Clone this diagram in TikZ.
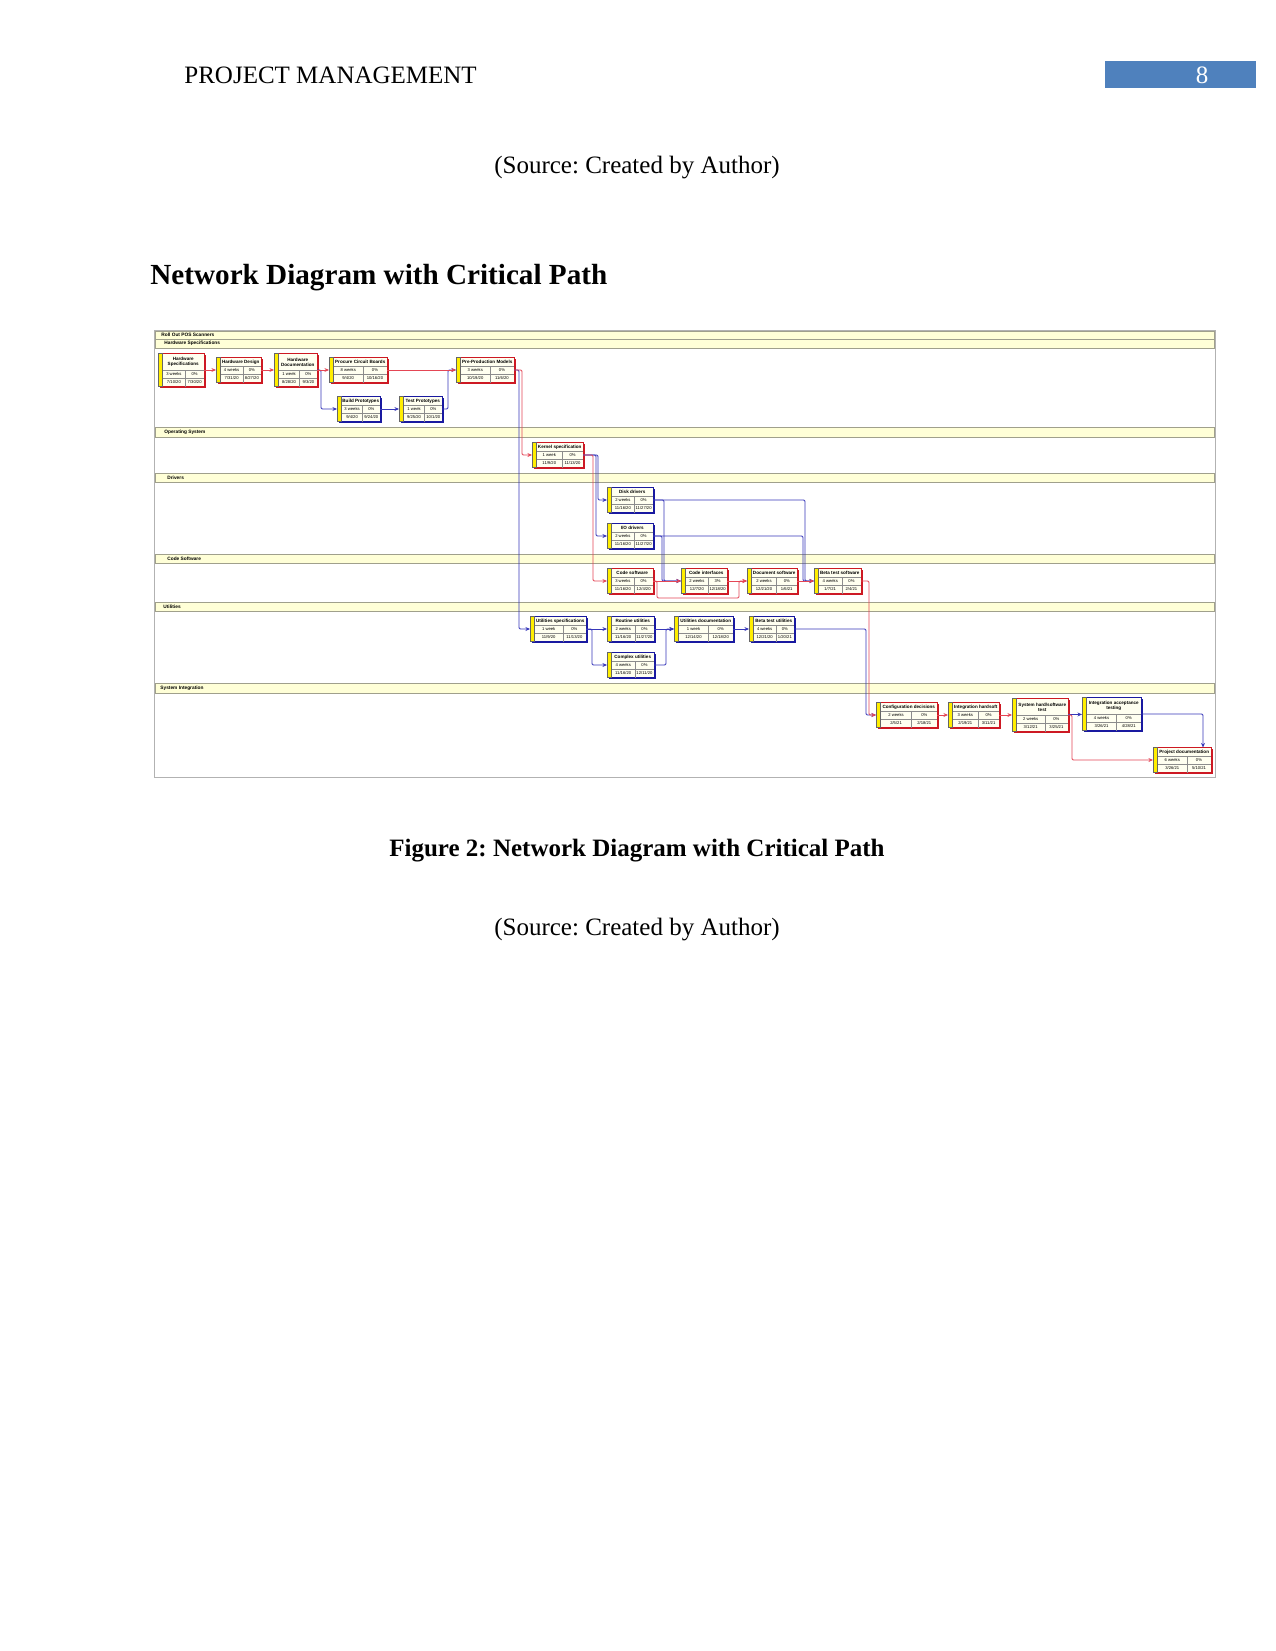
\documentclass[tikz,border=0pt]{standalone}
\usepackage{fontspec}
\setmainfont{Liberation Serif}
\newfontfamily\msfont{Liberation Sans}
\usetikzlibrary{arrows.meta,calc,shadows}
\frenchspacing

\definecolor{hdrblue}{RGB}{79,129,189}
\definecolor{bandfill}{RGB}{255,255,215}
\definecolor{bandline}{RGB}{160,160,140}
\definecolor{critred}{RGB}{205,25,35}
\definecolor{normblue}{RGB}{25,25,160}
\definecolor{linkred}{RGB}{228,70,85}
\definecolor{linkblue}{RGB}{55,55,185}
\definecolor{boxfill}{RGB}{255,255,240}
\definecolor{stripyellow}{RGB}{255,238,0}

% fill one task box: node, title, duration, percent, start, finish
\newcommand{\cells}[6]{%
  \coordinate (#1-t) at ($(#1.south west)+(4.5,0)$);
  \coordinate (#1-d) at ($(#1-t)!0.55!(#1.south east)$);
  \coordinate (#1-l) at ($(#1-t)+(0,-16)$);
  \coordinate (#1-r) at ($(#1.south east)+(0,-16)$);
  \filldraw[fill=stripyellow,draw=black!60,line width=0.2pt] (#1.north west) rectangle (#1-t);
  \draw[cellline] (#1-l) -- (#1-r) ($(#1-t)+(0,-8)$) -- ($(#1.south east)+(0,-8)$) (#1-d |- #1-l) -- (#1-d);
  \node[ttl] (#1-name) at ($(#1-l)!0.5!(#1.north east)$) {#2};
  \node[cel] (#1-dur) at ($(#1-t)!0.5!(#1-d)+(0,-12)$) {#3};
  \node[cel] (#1-pct) at ($(#1-d)!0.5!(#1.south east)+(0,-12)$) {#4};
  \node[cel] (#1-start) at ($(#1-t)!0.5!(#1-d)+(0,-4)$) {#5};
  \node[cel] (#1-finish) at ($(#1-d)!0.5!(#1.south east)+(0,-4)$) {#6};
}

\begin{document}
\begin{tikzpicture}[x=0.48pt,y=-0.48pt,
  task/.style={rectangle,fill=boxfill,inner sep=0pt,outer sep=0pt,anchor=west,line width=0.35pt},
  critbox/.style={task,draw=critred,drop shadow={opacity=1,fill=critred,shadow xshift=0.8pt,shadow yshift=-0.8pt}},
  normbox/.style={task,draw=normblue,drop shadow={opacity=1,fill=normblue,shadow xshift=0.8pt,shadow yshift=-0.8pt}},
  wd/.style={minimum width=#1*0.48pt},
  ht/.style={minimum height=#1*0.48pt},
  cellline/.style={draw=black!45,line width=0.2pt},
  ttl/.style={font=\msfont\bfseries\fontsize{2.2}{2.5}\selectfont,inner sep=0pt,align=center},
  cel/.style={font=\msfont\fontsize{2}{2.3}\selectfont,inner sep=0pt},
  critlink/.style={draw=linkred,line width=0.4pt,rounded corners=0.6pt,-{Stealth[length=2.2pt,width=1.9pt]}},
  normlink/.style={draw=linkblue,line width=0.4pt,rounded corners=0.6pt,-{Stealth[length=2.2pt,width=1.9pt]}},
  band/.style={fill=bandfill,draw=bandline,line width=0.35pt},
  lanelabel/.style={font=\msfont\bfseries\fontsize{2.3}{2.6}\selectfont,anchor=west,inner sep=0pt},
  pagetext/.style={font=\fontsize{12}{14}\selectfont,inner sep=0pt,anchor=base}]
\useasboundingbox (0,0) rectangle (1275,1651);

% page header and captions
\node[pagetext,anchor=base west] (hdr) at (184,84) {PROJECT MANAGEMENT};
\fill[hdrblue] (1105,61) rectangle (1256,88);
\node[pagetext,text=white] (pagenum) at (1202,84) {8};
\node[pagetext] (src1) at (637,174) {(Source: Created by Author)};
\node[pagetext,anchor=base west,font=\bfseries\fontsize{14}{16}\selectfont] (title) at (150,285) {Network Diagram with Critical Path};
\node[pagetext,font=\bfseries\fontsize{12}{14}\selectfont] (fig) at (637,856) {Figure 2: Network Diagram with Critical Path};
\node[pagetext] (src2) at (637,935) {(Source: Created by Author)};

% chart frame and lanes
\filldraw[fill=white,draw=black!30,line width=0.4pt] (154,330) rectangle (1215,777);
\foreach \ytop/\ybot/\lx/\lname [count=\k] in {331/339/161/Roll Out POS Scanners,
    339/348/164/Hardware Specifications, 427/437/164/Operating System,
    473/482/167/Drivers, 554/563/167/Code Software, 602/611/163/Utilities,
    683/693/160/System Integration}{
  \filldraw[band] (155,\ytop) rectangle (1214,\ybot);
  \node[lanelabel] (lane\k) at (\lx,{(\ytop+\ybot)/2}) {\lname};
}

% hardware
\node[critbox,wd=46,ht=33] (hs) at (158,370) {};
\node[critbox,wd=45,ht=25] (hd) at (216,370) {};
\node[critbox,wd=43,ht=33] (hdoc) at (274,370) {};
\node[critbox,wd=58,ht=25] (proc) at (329,370) {};
\node[critbox,wd=58,ht=25] (pre) at (456,370) {};
\node[normbox,wd=43,ht=25] (build) at (337,409) {};
\node[normbox,wd=43,ht=25] (test) at (399,409) {};
% operating system and drivers
\node[critbox,wd=51,ht=25] (kern) at (532,455) {};
\node[normbox,wd=46,ht=25] (disk) at (607,500) {};
\node[normbox,wd=46,ht=25] (io) at (607,536) {};
% code software
\node[critbox,wd=46,ht=25] (code) at (607,581) {};
\node[critbox,wd=46,ht=25] (cint) at (681,581) {};
\node[critbox,wd=50,ht=25] (docsw) at (747,581) {};
\node[critbox,wd=47,ht=25] (btsw) at (814,581) {};
% utilities
\node[normbox,wd=56,ht=25] (uspec) at (530,629) {};
\node[normbox,wd=47,ht=25] (rout) at (607,629) {};
\node[normbox,wd=59,ht=25] (udoc) at (674,629) {};
\node[normbox,wd=45,ht=25] (btutil) at (749,629) {};
\node[normbox,wd=47,ht=25] (cplx) at (607,665) {};
% system integration
\node[critbox,wd=61,ht=25] (conf) at (876,715) {};
\node[critbox,wd=51,ht=25] (integ) at (948,715) {};
\node[critbox,wd=56,ht=33] (sys) at (1012,715) {};
\node[normbox,wd=59,ht=33] (iat) at (1082,714) {};
\node[critbox,wd=58,ht=25] (pdoc) at (1153,760) {};

\cells{hs}{Hardware\\Specifications}{3 weeks}{0\%}{7/10/20}{7/30/20}
\cells{hd}{Hardware Design}{4 weeks}{0\%}{7/31/20}{8/27/20}
\cells{hdoc}{Hardware\\Documentation}{1 week}{0\%}{8/28/20}{9/3/20}
\cells{proc}{Procure Circuit Boards}{8 weeks}{0\%}{9/4/20}{10/16/20}
\cells{pre}{Pre-Production Models}{3 weeks}{0\%}{10/19/20}{11/6/20}
\cells{build}{Build Prototypes}{3 weeks}{0\%}{9/4/20}{9/24/20}
\cells{test}{Test Prototypes}{1 week}{0\%}{9/25/20}{10/1/20}
\cells{kern}{Kernel specification}{1 week}{0\%}{11/9/20}{11/13/20}
\cells{disk}{Disk drivers}{2 weeks}{0\%}{11/16/20}{11/27/20}
\cells{io}{I/O drivers}{2 weeks}{0\%}{11/16/20}{11/27/20}
\cells{code}{Code software}{3 weeks}{0\%}{11/16/20}{12/4/20}
\cells{cint}{Code interfaces}{2 weeks}{3\%}{12/7/20}{12/18/20}
\cells{docsw}{Document software}{2 weeks}{0\%}{12/21/20}{1/6/21}
\cells{btsw}{Beta test software}{4 weeks}{0\%}{1/7/21}{2/4/21}
\cells{uspec}{Utilities specifications}{1 week}{0\%}{11/9/20}{11/13/20}
\cells{rout}{Routine utilities}{2 weeks}{0\%}{11/16/20}{11/27/20}
\cells{udoc}{Utilities documentation}{1 week}{0\%}{12/14/20}{12/18/20}
\cells{btutil}{Beta test utilities}{4 weeks}{0\%}{12/21/20}{1/20/21}
\cells{cplx}{Complex utilities}{4 weeks}{0\%}{11/16/20}{12/11/20}
\cells{conf}{Configuration decisions}{2 weeks}{0\%}{2/5/21}{2/18/21}
\cells{integ}{Integration hardsoft}{3 weeks}{0\%}{2/19/21}{3/11/21}
\cells{sys}{System hard/software\\test}{2 weeks}{0\%}{3/12/21}{3/25/21}
\cells{iat}{Integration acceptance\\testing}{4 weeks}{0\%}{3/26/21}{4/28/21}
\cells{pdoc}{Project documentation}{6 weeks}{0\%}{3/26/21}{5/10/21}

% links, blue first so the critical path sits on top
\draw[normlink] (hdoc.east) -- ++(4,0) |- (build.west);
\draw[normlink] (build) -- (test);
\draw[normlink] (test.east) -- ++(6,0) |- (pre.west);
\draw[normlink] (pre.east) -- ++(5,0) |- (uspec.west);
\draw[normlink] (kern.east) -- ++(15,0) |- (disk.west);
\draw[normlink] (kern.east) -- ++(13,0) |- (io.west);
\draw[normlink] (disk.east) -- ++(11,0) |- (cint.west);
\draw[normlink] (io.east) -- ++(9,0) |- (cint.west);
\draw[normlink] (disk.east) -- ++(152,0) |- (btsw.west);
\draw[normlink] (io.east) -- ++(150,0) |- (btsw.west);
\draw[normlink] (uspec) -- (rout);
\draw[normlink] (uspec.east) -- ++(6,0) |- (cplx.west);
\draw[normlink] (rout) -- (udoc);
\draw[normlink] (cplx.east) -- ++(12,0) |- (udoc.west);
\draw[normlink] (udoc) -- (btutil);
\draw[normlink] (btutil.east) -- ++(72,0) |- (conf.west);
\draw[normlink] (sys) -- (iat);
\draw[normlink] (iat.east) -| ($(pdoc.north east)+(-8,0)$);

\draw[critlink] (hs) -- (hd);
\draw[critlink] (hd) -- (hdoc);
\draw[critlink] (hdoc) -- (proc);
\draw[critlink] (proc) -- (pre);
\draw[critlink] (pre.east) -- ++(8,0) |- (kern.west);
\draw[critlink] (kern.east) -- ++(10,0) |- (code.west);
\draw[critlink] (code) -- (cint);
\draw[critlink] (code.east) -- ++(4,0) -- ++(0,17) -| ($(docsw.west)+(-8,0)$) -- (docsw.west);
\draw[critlink] (cint) -- (docsw);
\draw[critlink] (docsw) -- (btsw);
\draw[critlink] (btsw.east) -- ++(8,0) |- (conf.west);
\draw[critlink] (conf) -- (integ);
\draw[critlink] (integ) -- (sys);
\draw[critlink] (sys.east) -- ++(4,0) |- (pdoc.west);
\end{tikzpicture}
\end{document}
